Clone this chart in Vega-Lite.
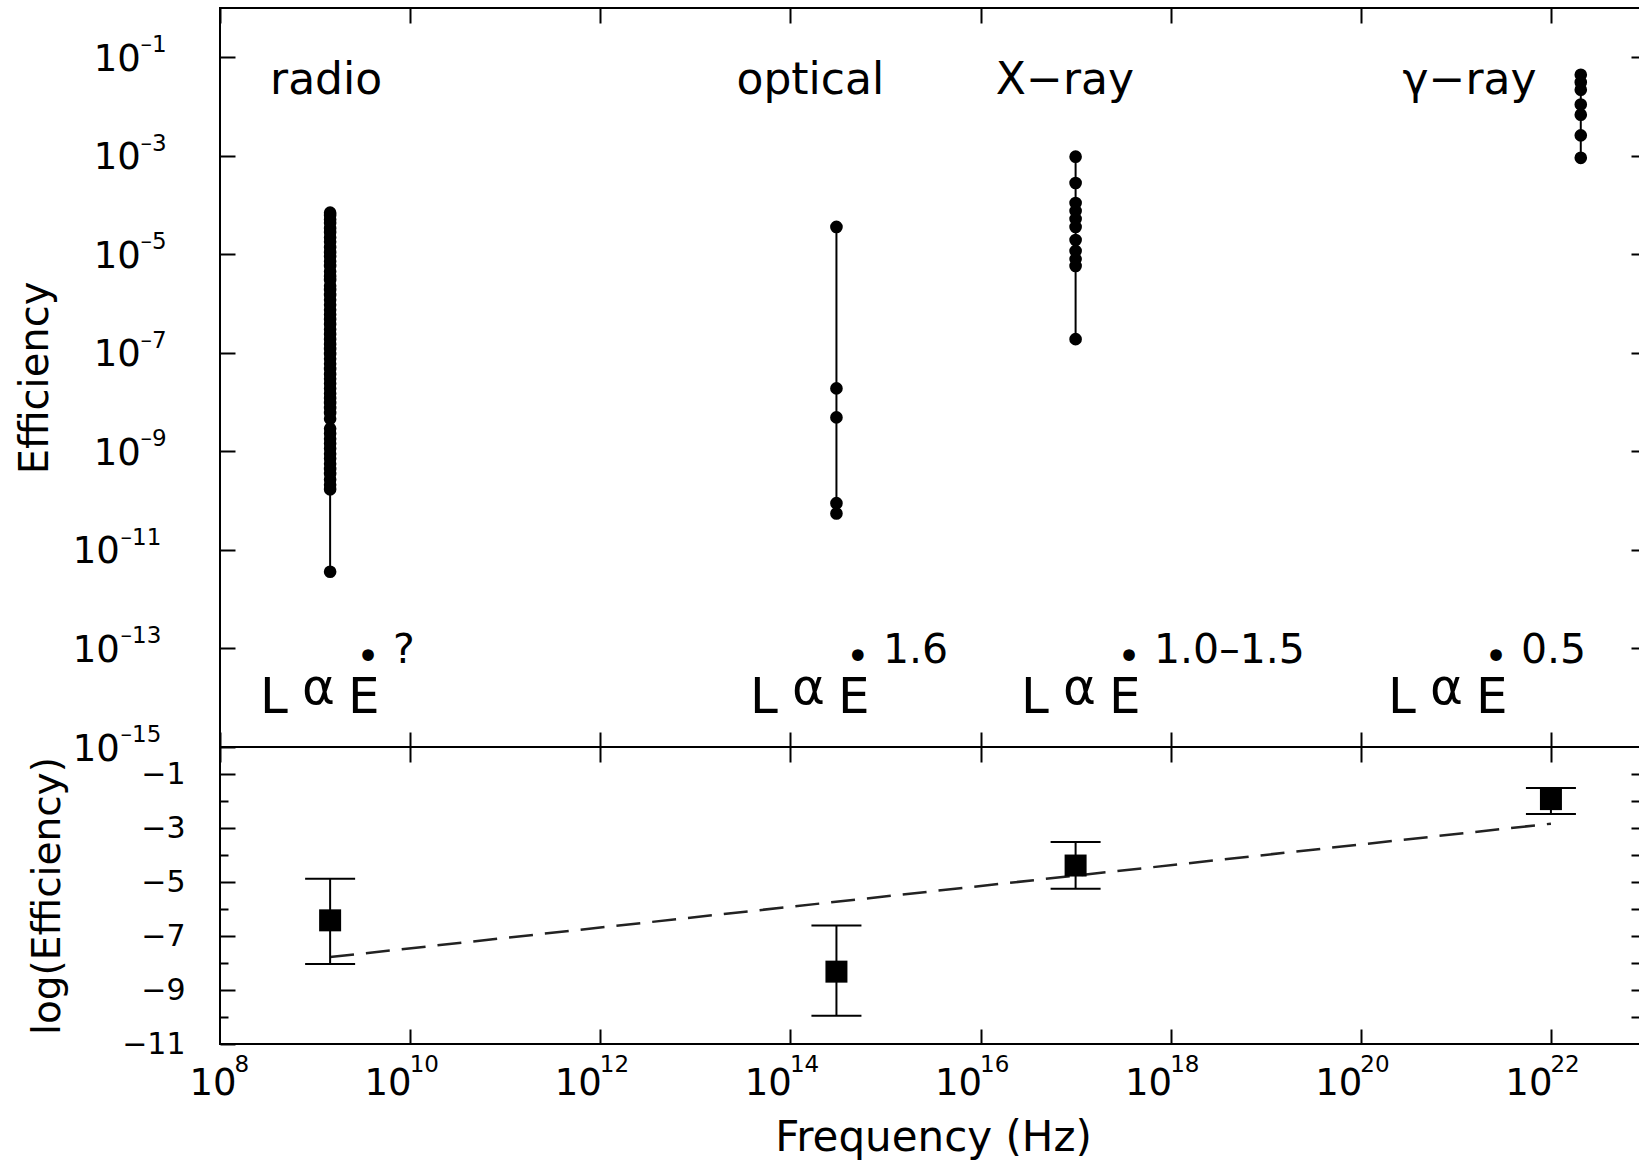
{
  "$schema": "https://vega.github.io/schema/vega-lite/v6.json",
  "autosize": {"type": "none"},
  "padding": {"left": 220, "top": 8, "right": 1419, "bottom": 1159},
  "background": "white",
  "bounds": "flush",
  "spacing": 0,
  "config": {
    "view": {"stroke": "black", "strokeWidth": 2},
    "font": "DejaVu Sans",
    "axis": {
      "grid": false, "domain": false, "tickColor": "black", "tickWidth": 2, "tickSize": -15,
      "labelColor": "black", "titleColor": "black", "labelFont": "DejaVu Sans", "titleFont": "DejaVu Sans",
      "titleFontWeight": "normal", "labelOverlap": false, "labelFlush": false, "labelBound": false
    }
  },
  "datasets": {
    "top": [
      {"band": "radio", "freq": 1.44e9, "eff": 7e-5},
      {"band": "radio", "freq": 1.44e9, "eff": 6.2e-5},
      {"band": "radio", "freq": 1.44e9, "eff": 5.1e-5},
      {"band": "radio", "freq": 1.44e9, "eff": 4.3e-5},
      {"band": "radio", "freq": 1.44e9, "eff": 3.4e-5},
      {"band": "radio", "freq": 1.44e9, "eff": 2.8e-5},
      {"band": "radio", "freq": 1.44e9, "eff": 2.2e-5},
      {"band": "radio", "freq": 1.44e9, "eff": 1.8e-5},
      {"band": "radio", "freq": 1.44e9, "eff": 1.4e-5},
      {"band": "radio", "freq": 1.44e9, "eff": 1.1e-5},
      {"band": "radio", "freq": 1.44e9, "eff": 9e-6},
      {"band": "radio", "freq": 1.44e9, "eff": 7.2e-6},
      {"band": "radio", "freq": 1.44e9, "eff": 5.8e-6},
      {"band": "radio", "freq": 1.44e9, "eff": 4.5e-6},
      {"band": "radio", "freq": 1.44e9, "eff": 3.6e-6},
      {"band": "radio", "freq": 1.44e9, "eff": 3e-6},
      {"band": "radio", "freq": 1.44e9, "eff": 2.3e-6},
      {"band": "radio", "freq": 1.44e9, "eff": 1.9e-6},
      {"band": "radio", "freq": 1.44e9, "eff": 1.5e-6},
      {"band": "radio", "freq": 1.44e9, "eff": 1.2e-6},
      {"band": "radio", "freq": 1.44e9, "eff": 9.5e-7},
      {"band": "radio", "freq": 1.44e9, "eff": 7.5e-7},
      {"band": "radio", "freq": 1.44e9, "eff": 6e-7},
      {"band": "radio", "freq": 1.44e9, "eff": 4.8e-7},
      {"band": "radio", "freq": 1.44e9, "eff": 3.8e-7},
      {"band": "radio", "freq": 1.44e9, "eff": 3e-7},
      {"band": "radio", "freq": 1.44e9, "eff": 2.4e-7},
      {"band": "radio", "freq": 1.44e9, "eff": 1.9e-7},
      {"band": "radio", "freq": 1.44e9, "eff": 1.5e-7},
      {"band": "radio", "freq": 1.44e9, "eff": 1.2e-7},
      {"band": "radio", "freq": 1.44e9, "eff": 9.5e-8},
      {"band": "radio", "freq": 1.44e9, "eff": 7.6e-8},
      {"band": "radio", "freq": 1.44e9, "eff": 6e-8},
      {"band": "radio", "freq": 1.44e9, "eff": 4.7e-8},
      {"band": "radio", "freq": 1.44e9, "eff": 3.7e-8},
      {"band": "radio", "freq": 1.44e9, "eff": 3e-8},
      {"band": "radio", "freq": 1.44e9, "eff": 2.4e-8},
      {"band": "radio", "freq": 1.44e9, "eff": 1.9e-8},
      {"band": "radio", "freq": 1.44e9, "eff": 1.5e-8},
      {"band": "radio", "freq": 1.44e9, "eff": 1.2e-8},
      {"band": "radio", "freq": 1.44e9, "eff": 9.6e-9},
      {"band": "radio", "freq": 1.44e9, "eff": 7.6e-9},
      {"band": "radio", "freq": 1.44e9, "eff": 6e-9},
      {"band": "radio", "freq": 1.44e9, "eff": 4.6e-9},
      {"band": "radio", "freq": 1.44e9, "eff": 2.9e-9},
      {"band": "radio", "freq": 1.44e9, "eff": 2.3e-9},
      {"band": "radio", "freq": 1.44e9, "eff": 1.8e-9},
      {"band": "radio", "freq": 1.44e9, "eff": 1.45e-9},
      {"band": "radio", "freq": 1.44e9, "eff": 1.15e-9},
      {"band": "radio", "freq": 1.44e9, "eff": 9e-10},
      {"band": "radio", "freq": 1.44e9, "eff": 7.2e-10},
      {"band": "radio", "freq": 1.44e9, "eff": 5.6e-10},
      {"band": "radio", "freq": 1.44e9, "eff": 4.4e-10},
      {"band": "radio", "freq": 1.44e9, "eff": 3.5e-10},
      {"band": "radio", "freq": 1.44e9, "eff": 2.7e-10},
      {"band": "radio", "freq": 1.44e9, "eff": 2.1e-10},
      {"band": "radio", "freq": 1.44e9, "eff": 1.7e-10},
      {"band": "radio", "freq": 1.44e9, "eff": 3.6e-12},
      {"band": "optical", "freq": 3.05e14, "eff": 3.6e-5},
      {"band": "optical", "freq": 3.05e14, "eff": 1.9e-8},
      {"band": "optical", "freq": 3.05e14, "eff": 4.9e-9},
      {"band": "optical", "freq": 3.05e14, "eff": 8.9e-11},
      {"band": "optical", "freq": 3.05e14, "eff": 5.5e-11},
      {"band": "xray", "freq": 1e17, "eff": 9.6e-4},
      {"band": "xray", "freq": 1e17, "eff": 2.8e-4},
      {"band": "xray", "freq": 1e17, "eff": 1.1e-4},
      {"band": "xray", "freq": 1e17, "eff": 7.6e-5},
      {"band": "xray", "freq": 1e17, "eff": 5.2e-5},
      {"band": "xray", "freq": 1e17, "eff": 3.6e-5},
      {"band": "xray", "freq": 1e17, "eff": 1.95e-5},
      {"band": "xray", "freq": 1e17, "eff": 1.17e-5},
      {"band": "xray", "freq": 1e17, "eff": 8e-6},
      {"band": "xray", "freq": 1e17, "eff": 5.8e-6},
      {"band": "xray", "freq": 1e17, "eff": 1.9e-7},
      {"band": "gamma", "freq": 2.06e22, "eff": 4.4e-2},
      {"band": "gamma", "freq": 2.06e22, "eff": 3.1e-2},
      {"band": "gamma", "freq": 2.06e22, "eff": 2.2e-2},
      {"band": "gamma", "freq": 2.06e22, "eff": 1.1e-2},
      {"band": "gamma", "freq": 2.06e22, "eff": 6.8e-3},
      {"band": "gamma", "freq": 2.06e22, "eff": 2.6e-3},
      {"band": "gamma", "freq": 2.06e22, "eff": 9.1e-4}
    ],
    "names": [
      {"name": "radio", "freq": 3.36e8, "eff": 1.8e-2},
      {"name": "optical", "freq": 2.71e13, "eff": 1.8e-2},
      {"name": "X−ray", "freq": 1.45e16, "eff": 1.8e-2},
      {"name": "γ−ray", "freq": 2.75e20, "eff": 1.8e-2}
    ],
    "ann": [
      {"freq": 2.63e8, "eff": 4.9e-15, "exp": "?"},
      {"freq": 3.75e13, "eff": 4.9e-15, "exp": "1.6"},
      {"freq": 2.66e16, "eff": 4.9e-15, "exp": "1.0–1.5"},
      {"freq": 1.93e20, "eff": 4.9e-15, "exp": "0.5"}
    ],
    "bottom": [
      {"band": "radio", "freq": 1.44e9, "v": -6.42, "lo": -8.04, "hi": -4.88},
      {"band": "optical", "freq": 3.05e14, "v": -8.32, "lo": -9.95, "hi": -6.61},
      {"band": "xray", "freq": 1e17, "v": -4.39, "lo": -5.25, "hi": -3.52},
      {"band": "gamma", "freq": 1e22, "v": -1.93, "lo": -2.48, "hi": -1.52}
    ],
    "fit": [
      {"freq": 1.44e9, "v": -7.78},
      {"freq": 1e22, "v": -2.84}
    ]
  },
  "vconcat": [
    {
      "width": 1426,
      "height": 739,
      "layer": [
        {
          "data": {"name": "top"},
          "mark": {"type": "rule", "strokeWidth": 2, "color": "black"},
          "encoding": {
            "x": {"field": "freq", "type": "quantitative",
              "scale": {"type": "log", "domain": [1e8, 1e23], "nice": false},
              "axis": {"orient": "bottom", "values": [1e8, 1e10, 1e12, 1e14, 1e16, 1e18, 1e20, 1e22], "labels": false, "title": null, "offset": 0}},
            "y": {"field": "eff", "aggregate": "min", "type": "quantitative",
              "scale": {"type": "log", "domain": [1e-15, 1], "nice": false},
              "axis": {"orient": "left", "offset": 0,
                "values": [1e-1, 1e-3, 1e-5, 1e-7, 1e-9],
                "labelExpr": "'10'", "labelAlign": "right",
                "labelFontSize": 37, "labelPadding": 94.6, "labelOffset": 2,
                "title": "Efficiency", "titleFontSize": 40, "titlePadding": 18,
                "minExtent": 147, "maxExtent": 147}},
            "y2": {"field": "eff", "aggregate": "max"},
            "detail": {"field": "band", "type": "nominal"}
          }
        },
        {
          "data": {"name": "top"},
          "mark": {"type": "circle", "size": 160, "color": "black", "opacity": 1},
          "encoding": {
            "x": {"field": "freq", "type": "quantitative", "scale": {"type": "log"},
              "axis": {"orient": "top", "values": [1e8, 1e10, 1e12, 1e14, 1e16, 1e18, 1e20, 1e22], "labels": false, "title": null, "offset": 0}},
            "y": {"field": "eff", "type": "quantitative", "scale": {"type": "log"},
              "axis": {"orient": "right", "values": [1e-1, 1e-3, 1e-5, 1e-7, 1e-9, 1e-11, 1e-13], "labels": false, "title": null, "offset": 0}}
          }
        },
        {
          "data": {"name": "names"},
          "mark": {"type": "text", "align": "left", "baseline": "alphabetic", "fontSize": 44, "color": "black"},
          "encoding": {
            "x": {"field": "freq", "type": "quantitative", "scale": {"type": "log"}, "axis": null},
            "y": {"field": "eff", "type": "quantitative", "scale": {"type": "log"},
              "axis": {"orient": "left", "offset": 0, "values": [1e-11, 1e-13, 1e-15],
                "labelExpr": "'10'", "labelAlign": "right",
                "labelFontSize": 37, "labelPadding": 115.6, "labelOffset": 2,
                "title": null, "minExtent": 0, "maxExtent": 0}},
            "text": {"field": "name"}
          }
        },
        {
          "data": {"name": "ann"},
          "mark": {"type": "text", "align": "left", "baseline": "alphabetic", "fontSize": 50, "color": "black"},
          "encoding": {
            "x": {"field": "freq", "type": "quantitative", "scale": {"type": "log"}, "axis": null},
            "y": {"field": "eff", "type": "quantitative", "scale": {"type": "log"},
              "axis": {"orient": "left", "offset": 0, "values": [1e-1, 1e-3, 1e-5, 1e-7, 1e-9], "ticks": false,
                "labelExpr": "datum.value > 0.05 ? '–1' : datum.value > 5e-4 ? '–3' : datum.value > 5e-6 ? '–5' : datum.value > 5e-8 ? '–7' : '–9'",
                "labelAlign": "left", "labelFontSize": 23, "labelPadding": 80, "labelOffset": -12.5,
                "title": null, "minExtent": 0, "maxExtent": 0}},
            "text": {"value": "L"}
          }
        },
        {
          "data": {"name": "ann"},
          "mark": {"type": "text", "align": "left", "baseline": "alphabetic", "fontSize": 50, "dx": 42, "dy": -9, "color": "black"},
          "encoding": {
            "x": {"field": "freq", "type": "quantitative", "scale": {"type": "log"}, "axis": null},
            "y": {"field": "eff", "type": "quantitative", "scale": {"type": "log"},
              "axis": {"orient": "left", "offset": 0, "values": [1e-11, 1e-13, 1e-15], "ticks": false,
                "labelExpr": "datum.value > 5e-12 ? '–11' : datum.value > 5e-14 ? '–13' : '–15'",
                "labelAlign": "left", "labelFontSize": 23, "labelPadding": 100, "labelOffset": -12.5,
                "title": null, "minExtent": 0, "maxExtent": 0}},
            "text": {"value": "α"}
          }
        },
        {
          "data": {"name": "ann"},
          "mark": {"type": "text", "align": "left", "baseline": "alphabetic", "fontSize": 50, "dx": 88, "color": "black"},
          "encoding": {
            "x": {"field": "freq", "type": "quantitative", "scale": {"type": "log"}, "axis": null},
            "y": {"field": "eff", "type": "quantitative", "scale": {"type": "log"}, "axis": null},
            "text": {"value": "E"}
          }
        },
        {
          "data": {"name": "ann"},
          "mark": {"type": "text", "align": "center", "baseline": "alphabetic", "fontSize": 40, "dx": 108, "dy": -43, "color": "black"},
          "encoding": {
            "x": {"field": "freq", "type": "quantitative", "scale": {"type": "log"}, "axis": null},
            "y": {"field": "eff", "type": "quantitative", "scale": {"type": "log"}, "axis": null},
            "text": {"value": "•"}
          }
        },
        {
          "data": {"name": "ann"},
          "mark": {"type": "text", "align": "left", "baseline": "alphabetic", "fontSize": 41, "dx": 133, "dy": -50, "color": "black"},
          "encoding": {
            "x": {"field": "freq", "type": "quantitative", "scale": {"type": "log"}, "axis": null},
            "y": {"field": "eff", "type": "quantitative", "scale": {"type": "log"}, "axis": null},
            "text": {"field": "exp"}
          }
        }
      ],
      "resolve": {"axis": {"x": "independent", "y": "independent"}}
    },
    {
      "width": 1426,
      "height": 297,
      "layer": [
        {
          "data": {"name": "fit"},
          "mark": {"type": "line", "strokeDash": [24, 12], "strokeWidth": 2.5, "color": "#222222"},
          "encoding": {
            "x": {"field": "freq", "type": "quantitative", "scale": {"type": "log", "domain": [1e8, 1e23], "nice": false},
              "axis": {"orient": "bottom", "offset": 0, "values": [1e8], "ticks": false,
                "labelExpr": "'10'", "labelAlign": "right", "labelFontSize": 37, "labelPadding": 21.8, "labelOffset": 16,
                "title": null, "minExtent": 0, "maxExtent": 0}},
            "y": {"field": "v", "type": "quantitative", "scale": {"domain": [-11, 0], "nice": false, "zero": false}, "axis": null}
          }
        },
        {
          "data": {"name": "bottom"},
          "mark": {"type": "rule", "strokeWidth": 2, "color": "black"},
          "encoding": {
            "x": {"field": "freq", "type": "quantitative", "scale": {"type": "log"},
              "axis": {"orient": "bottom", "offset": 0,
                "values": [1e10, 1e12, 1e14, 1e16, 1e18, 1e20, 1e22],
                "labelExpr": "'10'", "labelAlign": "right", "labelOffset": 1,
                "labelFontSize": 37, "labelPadding": 36.8,
                "title": "Frequency (Hz)", "titleFontSize": 42, "titlePadding": 23,
                "minExtent": 50, "maxExtent": 50}},
            "y": {"field": "lo", "type": "quantitative", "scale": {"zero": false},
              "axis": {"orient": "left", "offset": 0,
                "values": [-1, -3, -5, -7, -9, -11],
                "labelFontSize": 30, "labelPadding": 50,
                "title": "log(Efficiency)", "titleFontSize": 39, "titlePadding": 53,
                "minExtent": 100, "maxExtent": 100}},
            "y2": {"field": "hi"}
          }
        },
        {
          "data": {"name": "bottom"},
          "mark": {"type": "tick", "orient": "horizontal", "size": 50, "thickness": 2, "color": "black", "opacity": 1},
          "encoding": {
            "x": {"field": "freq", "type": "quantitative", "scale": {"type": "log"},
              "axis": {"orient": "bottom", "offset": 0, "values": [1e10, 1e12, 1e14, 1e16, 1e18, 1e20, 1e22], "ticks": false,
                "labelExpr": "datum.value < 5e10 ? '10' : datum.value < 5e12 ? '12' : datum.value < 5e14 ? '14' : datum.value < 5e16 ? '16' : datum.value < 5e18 ? '18' : datum.value < 5e20 ? '20' : '22'",
                "labelAlign": "left", "labelFontSize": 23, "labelPadding": 9.6, "labelOffset": -1,
                "title": null, "minExtent": 0, "maxExtent": 0}},
            "y": {"field": "lo", "type": "quantitative", "scale": {"zero": false},
              "axis": {"orient": "left", "offset": 0, "values": [-2, -4, -6, -8, -10], "labels": false, "tickSize": -8, "title": null, "minExtent": 0, "maxExtent": 0}}
          }
        },
        {
          "data": {"name": "bottom"},
          "mark": {"type": "tick", "orient": "horizontal", "size": 50, "thickness": 2, "color": "black", "opacity": 1},
          "encoding": {
            "x": {"field": "freq", "type": "quantitative", "scale": {"type": "log"},
              "axis": {"orient": "bottom", "offset": 0, "values": [1e8], "ticks": false,
                "labelExpr": "'8'", "labelAlign": "left", "labelFontSize": 23, "labelPadding": 9.6, "labelOffset": 14,
                "title": null, "minExtent": 0, "maxExtent": 0}},
            "y": {"field": "hi", "type": "quantitative", "scale": {"zero": false}, "axis": null}
          }
        },
        {
          "data": {"name": "bottom"},
          "mark": {"type": "square", "size": 484, "color": "black", "opacity": 1, "filled": true},
          "encoding": {
            "x": {"field": "freq", "type": "quantitative", "scale": {"type": "log"},
              "axis": {"orient": "top", "values": [1e8, 1e10, 1e12, 1e14, 1e16, 1e18, 1e20, 1e22], "labels": false, "title": null, "offset": 0}},
            "y": {"field": "v", "type": "quantitative", "scale": {"zero": false},
              "axis": {"orient": "right", "values": [-1, -2, -3, -4, -5, -6, -7, -8, -9, -10], "labels": false, "title": null, "offset": 0}}
          }
        }
      ],
      "resolve": {"axis": {"x": "independent", "y": "independent"}}
    }
  ]
}
